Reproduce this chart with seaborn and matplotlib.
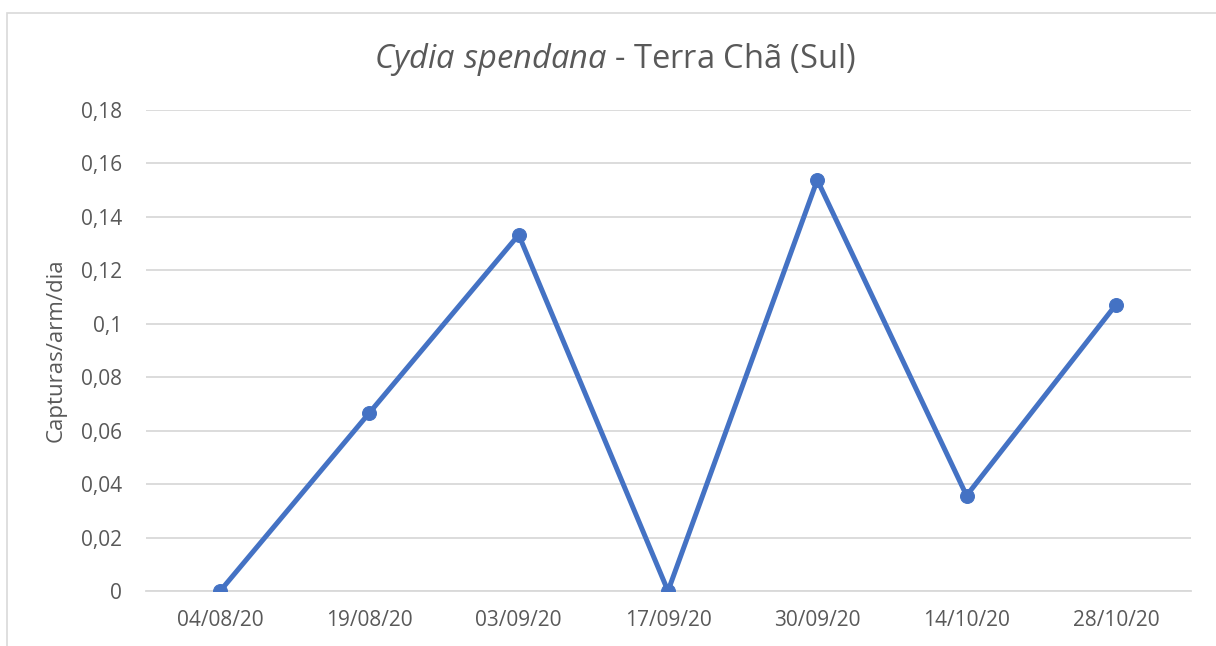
import matplotlib
matplotlib.use("Agg")
import matplotlib.pyplot as plt
import seaborn as sns
import pandas as pd
from matplotlib.ticker import FuncFormatter, MultipleLocator
from matplotlib.patches import Rectangle

dates = ["04/08/20", "19/08/20", "03/09/20", "17/09/20", "30/09/20", "14/10/20", "28/10/20"]
captures = [0.0, 0.0667, 0.1333, 0.0, 0.1538, 0.0357, 0.1071]
title_species = "Cydia spendana"
title_rest = " - Terra Chã (Sul)"
y_label = "Capturas/arm/dia"

sns.set_theme(style="white")
plt.rcParams["font.family"] = ["Open Sans", "DejaVu Sans"]
plt.rcParams["mathtext.fontset"] = "custom"
plt.rcParams["mathtext.rm"] = "Open Sans"
plt.rcParams["mathtext.it"] = "Open Sans:italic"

TXT = "#595959"
GRID = "#d9d9d9"
LINE = "#4472C4"

df = pd.DataFrame({"date": dates, "val": captures})

fig = plt.figure(figsize=(12.16, 6.46), dpi=100)
ax = fig.add_axes([145.5 / 1216, 1 - 591 / 646, (1190.5 - 145.5) / 1216, (591 - 110) / 646])

sns.lineplot(data=df, x="date", y="val", sort=False, ax=ax, color=LINE,
             linewidth=3.6, marker="o", markersize=10, markeredgecolor=LINE,
             markerfacecolor=LINE, zorder=3)

ax.set_xlim(-0.5, len(dates) - 0.5)
ax.set_ylim(0, 0.18)
ax.yaxis.set_major_locator(MultipleLocator(0.02))

def fmt(v, pos):
    s = f"{v:.2f}".rstrip("0").rstrip(".")
    return s.replace(".", ",")
ax.yaxis.set_major_formatter(FuncFormatter(fmt))

ax.grid(axis="y", color=GRID, linewidth=1.3)
ax.grid(axis="x", visible=False)
ax.set_axisbelow(True)
for s in ["top", "right", "left"]:
    ax.spines[s].set_visible(False)
ax.spines["bottom"].set_color(GRID)
ax.spines["bottom"].set_linewidth(1.3)

ax.tick_params(axis="both", length=0, colors=TXT, labelsize=15)
ax.tick_params(axis="y", pad=17)
ax.tick_params(axis="x", pad=14)
ax.set_xlabel("")
ax.set_ylabel(y_label, color=TXT, fontsize=16, labelpad=10)

fig.text(0.506, 1 - 60 / 646, r"$\it{Cydia\ spendana}$" + title_rest,
         ha="center", va="center", color=TXT, fontsize=23.5)

fig.patches.append(Rectangle((6.5 / 1216, -0.1), 1.2, 1 - 12.5 / 646 + 0.1,
                             transform=fig.transFigure, fill=False,
                             edgecolor="#d9d9d9", linewidth=1.2))

fig.savefig("out.png", dpi=100)
